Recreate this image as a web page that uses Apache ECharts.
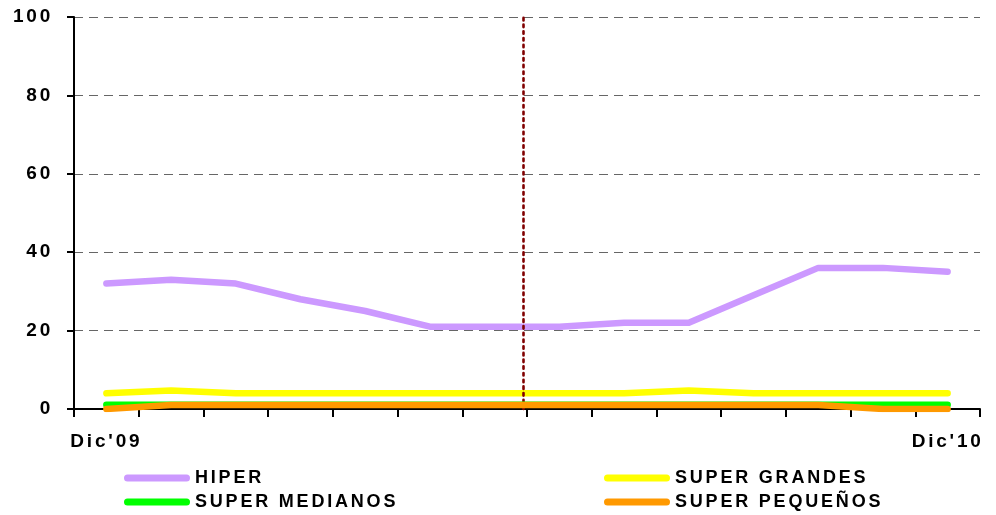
<!DOCTYPE html>
<html>
<head>
<meta charset="utf-8">
<script src="https://cdn.jsdelivr.net/npm/echarts@6/dist/echarts.min.js"></script>
<style>html,body{margin:0;padding:0;background:#fff;}#c{width:996px;height:515px;}</style>
</head>
<body>
<div id="c"></div>
<script>
// ---- data ----
const categories = ["Dic'09", "Ene'10", "Feb'10", "Mar'10", "Abr'10", "May'10", "Jun'10", "Jul'10", "Ago'10", "Sep'10", "Oct'10", "Nov'10", "Nov'10 ", "Dic'10"];
const shownLabels = ["Dic'09", "Dic'10"];
const yTicks = [0, 20, 40, 60, 80, 100];
const seriesNames = ["HIPER", "SUPER GRANDES", "SUPER MEDIANOS", "SUPER PEQUEÑOS"];
const hiper = [32, 33, 32, 28, 25, 21, 21, 21, 22, 22, 29, 36, 36, 35];
const superGrandes = [4, 4.7, 4, 4, 4, 4, 4, 4, 4, 4.7, 4, 4, 4, 4];
const superMedianos = [1.1, 1.1, 1.1, 1.1, 1.1, 1.1, 1.1, 1.1, 1.1, 1.1, 1.1, 1.1, 1.1, 1.1];
const superPequenos = [0, 1, 1, 1, 1, 1, 1, 1, 1, 1, 1, 1, 0, 0];
const dividerPosition = 6.94; // in category-width units from left edge

// letter-spaced text like the original
(function () {
  const p = CanvasRenderingContext2D.prototype;
  const f = p.fillText;
  p.fillText = function (t, x, y, m) {
    if ('letterSpacing' in this) this.letterSpacing = '2.8px';
    return m === undefined ? f.call(this, t, x, y) : f.call(this, t, x, y, m);
  };
})();

const FONT = "'Liberation Sans', Arial, sans-serif";
const colors = ['#CC99FF', '#FFFF00', '#00FF00', '#FF9900'];
const values = [hiper, superGrandes, superMedianos, superPequenos];

const chart = echarts.init(document.getElementById('c'), null, { renderer: 'canvas' });

const lineSeries = seriesNames.map((n, i) => ({
  name: n,
  type: 'line',
  data: values[i],
  showSymbol: false,
  symbol: 'none',
  smooth: false,
  animation: false,
  lineStyle: { color: colors[i], width: 6.5, cap: 'round', join: 'round' },
  itemStyle: { color: colors[i] },
  z: 3 + i
}));

lineSeries.push({
  type: 'line',
  xAxisIndex: 1,
  data: [],
  silent: true,
  markLine: {
    symbol: 'none',
    silent: true,
    label: { show: false },
    animation: false,
    lineStyle: { color: '#800000', type: [2.5, 4.2], width: 2.6, cap: 'round' },
    data: [{ xAxis: dividerPosition }]
  }
});

const pill = 'path://M3.5 0H62.5A3.5 3.5 0 0 1 62.5 7H3.5A3.5 3.5 0 0 1 3.5 0Z';
const legendPos = [[124, 469], [604, 469], [124, 493], [604, 493]];
const legends = seriesNames.map((n, i) => ({
  data: [n],
  left: legendPos[i][0],
  top: legendPos[i][1],
  padding: 0,
  itemWidth: 66,
  itemHeight: 7,
  icon: pill,
  selectedMode: false,
  textStyle: { fontFamily: FONT, fontWeight: 'bold', fontSize: 18, color: '#000' }
}));

chart.setOption({
  animation: false,
  backgroundColor: '#fff',
  grid: { left: 74, right: 16, top: 17, bottom: 106, containLabel: false },
  legend: legends,
  xAxis: [{
    type: 'category',
    data: categories,
    boundaryGap: true,
    axisLine: { lineStyle: { color: '#000', width: 2 } },
    axisTick: { show: true, interval: 0, length: 8, lineStyle: { color: '#000', width: 2 } },
    axisLabel: {
      interval: (i, v) => shownLabels.indexOf(v) >= 0 && (i === 0 || i === categories.length - 1),
      margin: 23,
      color: '#000',
      fontFamily: FONT,
      fontWeight: 'bold',
      fontSize: 19
    },
    splitLine: { show: false }
  }, {
    type: 'value',
    min: 0,
    max: categories.length,
    show: false
  }],
  yAxis: {
    type: 'value',
    min: yTicks[0],
    max: yTicks[yTicks.length - 1],
    interval: 20,
    axisLine: { show: true, lineStyle: { color: '#000', width: 2 } },
    axisTick: { show: true, length: 7, lineStyle: { color: '#000', width: 2 } },
    axisLabel: {
      margin: 21,
      color: '#000',
      fontFamily: FONT,
      fontWeight: 'bold',
      fontSize: 19
    },
    splitLine: { show: true, lineStyle: { color: '#666', type: [9, 6], width: 1 } }
  },
  series: lineSeries
});
</script>
</body>
</html>
